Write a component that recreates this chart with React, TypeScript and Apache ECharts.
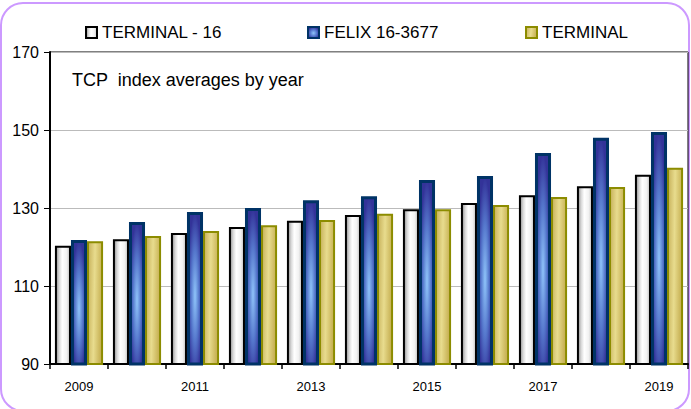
import React, { useEffect, useRef } from "react";
import * as echarts from "echarts";

const years = ["2009", "2010", "2011", "2012", "2013", "2014", "2015", "2016", "2017", "2018", "2019"];
const terminal16 = [120.3, 122.0, 123.6, 125.1, 126.7, 128.2, 129.7, 131.3, 133.3, 135.6, 138.5];
const felix = [121.8, 126.4, 129.0, 130.0, 132.0, 133.0, 137.2, 138.2, 144.1, 148.0, 149.5];
const terminal = [121.5, 122.8, 124.1, 125.6, 126.9, 128.5, 129.7, 130.8, 132.8, 135.4, 140.3];
const seriesNames = ["TERMINAL - 16", "FELIX 16-3677", "TERMINAL"];
const chartTitle = "TCP  index averages by year";

const SANS = "'Liberation Sans', Arial, sans-serif";

export default function App() {
  const ref = useRef<HTMLDivElement>(null);
  useEffect(() => {
    if (!ref.current) return;
    const chart = echarts.init(ref.current, null, { renderer: "svg" });
    const whiteFill = new echarts.graphic.LinearGradient(0, 0, 1, 0, [
      { offset: 0, color: "#8a8a8a" },
      { offset: 0.22, color: "#d6d6d6" },
      { offset: 0.45, color: "#ffffff" },
      { offset: 0.75, color: "#f2f2f2" },
      { offset: 1, color: "#c8c8c8" },
    ]);
    const blueFill = new echarts.graphic.RadialGradient(0.5, 0.55, 0.55, [
      { offset: 0, color: "#8fc4fa" },
      { offset: 0.55, color: "#5577cc" },
      { offset: 1, color: "#333399" },
    ]);
    const goldFill = new echarts.graphic.LinearGradient(0, 0, 1, 0.15, [
      { offset: 0, color: "#c6b05a" },
      { offset: 0.5, color: "#e8dc8e" },
      { offset: 1, color: "#c8b256" },
    ]);
    const legendBase = {
      top: 19,
      icon: "rect",
      itemWidth: 11,
      itemHeight: 11,
      itemGap: 5,
      textStyle: { fontFamily: SANS, fontSize: 17, color: "#000" },
      selectedMode: false,
    };
    chart.setOption({
      animation: false,
      backgroundColor: "#fff",
      graphic: [
        {
          type: "rect",
          z: -10,
          shape: { x: 1, y: 3, width: 688, height: 408, r: 22 },
          style: { fill: "#fff", stroke: "#cc99ff", lineWidth: 2 },
        },
        {
          type: "text",
          left: 72,
          top: 71,
          z: 10,
          style: { text: chartTitle, fontFamily: SANS, fontSize: 18, fill: "#000" },
        },
      ],
      legend: [
        { ...legendBase, left: 80, data: [seriesNames[0]] },
        { ...legendBase, left: 302, data: [seriesNames[1]] },
        { ...legendBase, left: 520, data: [seriesNames[2]] },
      ],
      grid: {
        left: 50,
        right: 3,
        top: 52,
        bottom: 45,
        show: true,
        borderColor: "#000",
        borderWidth: 1,
        backgroundColor: "transparent",
      },
      xAxis: {
        type: "category",
        data: years,
        axisLine: { lineStyle: { color: "#000", width: 2 } },
        axisTick: { show: true, interval: 0, length: 5, lineStyle: { color: "#000", width: 1.5 } },
        axisLabel: {
          interval: 1,
          margin: 16,
          fontFamily: SANS,
          fontSize: 13,
          color: "#000",
        },
      },
      yAxis: {
        type: "value",
        min: 90,
        max: 170,
        interval: 20,
        axisLine: { show: true, lineStyle: { color: "#000", width: 2 } },
        axisTick: { show: true, length: 6, inside: false, lineStyle: { color: "#000", width: 1 } },
        axisLabel: { fontFamily: SANS, fontSize: 16, color: "#000", margin: 11 },
        splitLine: { show: true, lineStyle: { color: "#bbbbbb", width: 1 } },
      },
      series: [
        {
          name: seriesNames[0],
          type: "bar",
          data: terminal16,
          barGap: "0%",
          barCategoryGap: "17%",
          itemStyle: { color: whiteFill, borderColor: "#000", borderWidth: 2 },
        },
        {
          name: seriesNames[1],
          type: "bar",
          data: felix,
          barGap: "0%",
          barCategoryGap: "17%",
          itemStyle: { color: blueFill, borderColor: "#003366", borderWidth: 3 },
        },
        {
          name: seriesNames[2],
          type: "bar",
          data: terminal,
          barGap: "0%",
          barCategoryGap: "17%",
          itemStyle: { color: goldFill, borderColor: "#8c8c00", borderWidth: 2 },
        },
      ],
    });
    return () => chart.dispose();
  }, []);
  return (
    <div
      ref={ref}
      style={{ position: "fixed", left: 0, top: 0, width: 691, height: 409 }}
    />
  );
}
